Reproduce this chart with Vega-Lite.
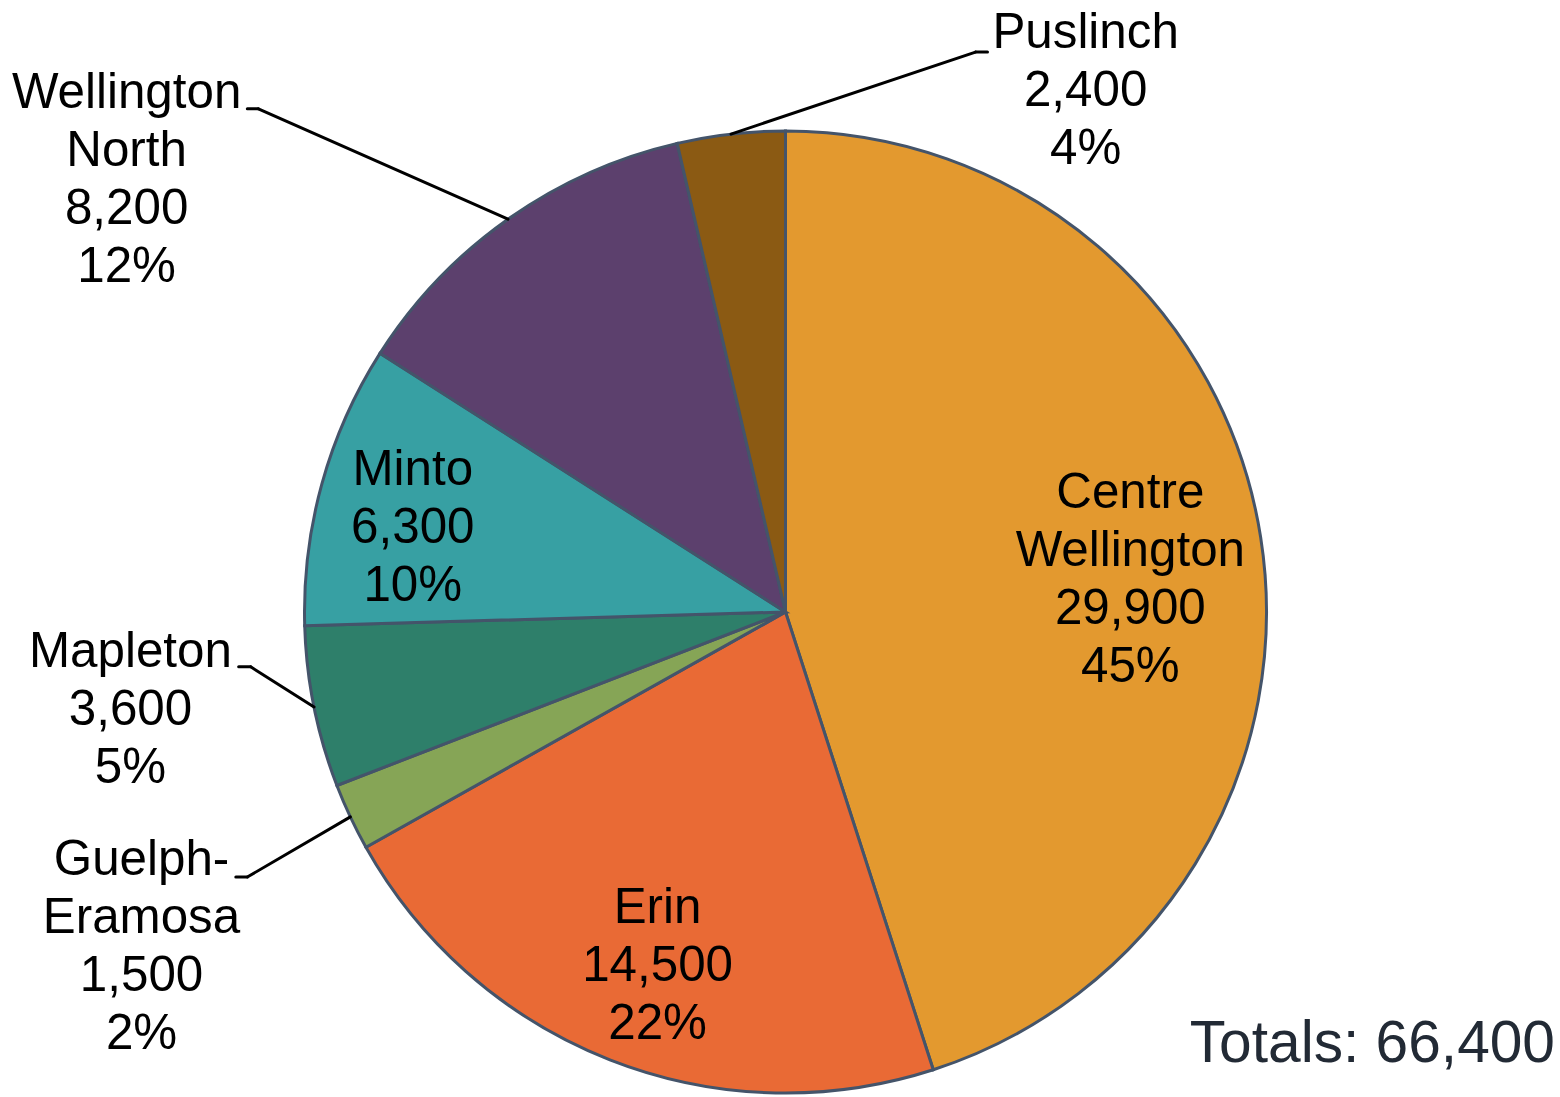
{
  "$schema": "https://vega.github.io/schema/vega-lite/v6.json",
  "width": 1539,
  "height": 962,
  "autosize": {"type": "none"},
  "padding": {"left": 16, "top": 131, "right": 5, "bottom": 4},
  "background": "white",
  "config": {"view": {"stroke": null}},
  "title": {
    "text": "Totals: 66,400",
    "orient": "bottom",
    "anchor": "end",
    "frame": "group",
    "font": "Liberation Sans",
    "fontSize": 58.67,
    "fontWeight": "normal",
    "color": "#222A35",
    "baseline": "alphabetic",
    "offset": -37
  },
  "data": {
    "values": [
      {"municipality": "Centre Wellington", "population": 29900, "share": 0.45},
      {"municipality": "Erin", "population": 14500, "share": 0.22},
      {"municipality": "Guelph-Eramosa", "population": 1500, "share": 0.02},
      {"municipality": "Mapleton", "population": 3600, "share": 0.05},
      {"municipality": "Minto", "population": 6300, "share": 0.10},
      {"municipality": "Wellington North", "population": 8200, "share": 0.12},
      {"municipality": "Puslinch", "population": 2400, "share": 0.04}
    ]
  },
  "transform": [
    {"window": [{"op": "row_number", "as": "slice_order"}]},
    {"joinaggregate": [{"op": "sum", "field": "population", "as": "total"}]},
    {"window": [{"op": "sum", "field": "population", "as": "cumulative"}], "sort": [{"field": "slice_order"}], "frame": [null, 0]},
    {"calculate": "2 * PI * (datum.cumulative - datum.population / 2) / datum.total", "as": "mid_angle"}
  ],
  "layer": [
    {
      "mark": {"type": "arc", "outerRadius": 481, "stroke": "#44546A", "strokeWidth": 3},
      "encoding": {
        "theta": {"field": "population", "type": "quantitative", "stack": true},
        "order": {"field": "slice_order", "type": "quantitative"},
        "color": {
          "field": "municipality",
          "type": "nominal",
          "legend": null,
          "scale": {
            "domain": ["Centre Wellington", "Erin", "Guelph-Eramosa", "Mapleton", "Minto", "Wellington North", "Puslinch"],
            "range": ["#E3992F", "#E96A35", "#86A556", "#2E7F6A", "#37A0A3", "#5C406D", "#8B5A13"]
          }
        }
      }
    },
    {
      "transform": [
        {"filter": {"field": "municipality", "oneOf": ["Guelph-Eramosa", "Mapleton", "Wellington North", "Puslinch"]}},
        {"calculate": "sin(datum.mid_angle)", "as": "edge_x"},
        {"calculate": "cos(datum.mid_angle)", "as": "edge_y"},
        {"calculate": "[0, 0, -1.119, -1.112, 0, -1.096, 0.395][datum.slice_order - 1]", "as": "elbow_x"},
        {"calculate": "[0, 0, -0.551, -0.114, 0, 1.046, 1.164][datum.slice_order - 1]", "as": "elbow_y"}
      ],
      "mark": {"type": "rule", "color": "#000000", "strokeWidth": 3, "strokeCap": "round"},
      "encoding": {
        "x": {"field": "edge_x", "type": "quantitative", "axis": null, "scale": {"domain": [-1.6, 1.6], "nice": false, "zero": false}},
        "y": {"field": "edge_y", "type": "quantitative", "axis": null, "scale": {"domain": [-1, 1], "nice": false, "zero": false}},
        "x2": {"field": "elbow_x"},
        "y2": {"field": "elbow_y"}
      }
    },
    {
      "transform": [
        {"filter": {"field": "municipality", "oneOf": ["Guelph-Eramosa", "Mapleton", "Wellington North", "Puslinch"]}},
        {"calculate": "[0, 0, -1.119, -1.112, 0, -1.096, 0.395][datum.slice_order - 1]", "as": "elbow_x"},
        {"calculate": "[0, 0, -0.551, -0.114, 0, 1.046, 1.164][datum.slice_order - 1]", "as": "elbow_y"},
        {"calculate": "[0, 0, -1.143, -1.137, 0, -1.119, 0.420][datum.slice_order - 1]", "as": "tail_x"}
      ],
      "mark": {"type": "rule", "color": "#000000", "strokeWidth": 3, "strokeCap": "round"},
      "encoding": {
        "x": {"field": "elbow_x", "type": "quantitative", "axis": null},
        "x2": {"field": "tail_x"},
        "y": {"field": "elbow_y", "type": "quantitative", "axis": null}
      }
    },
    {
      "transform": [
        {"calculate": "replace(replace(datum.municipality, '-', '-\\n'), ' ', '\\n') + '\\n' + format(datum.population, ',') + '\\n' + format(datum.share, '.0%')", "as": "label"},
        {"calculate": "[0.717, -0.266, -1.339, -1.362, -0.775, -1.370, 0.624][datum.slice_order - 1]", "as": "label_x"},
        {"calculate": "[0.216, -0.647, -0.547, -0.114, 0.264, 1.048, 1.173][datum.slice_order - 1]", "as": "label_y"}
      ],
      "mark": {"type": "text", "font": "Liberation Sans", "fontSize": 49.33, "lineHeight": 58, "lineBreak": "\n", "align": "center", "baseline": "alphabetic", "fill": "#000000"},
      "encoding": {
        "x": {"field": "label_x", "type": "quantitative", "axis": null},
        "y": {"field": "label_y", "type": "quantitative", "axis": null},
        "text": {"field": "label", "type": "nominal"}
      }
    }
  ]
}
